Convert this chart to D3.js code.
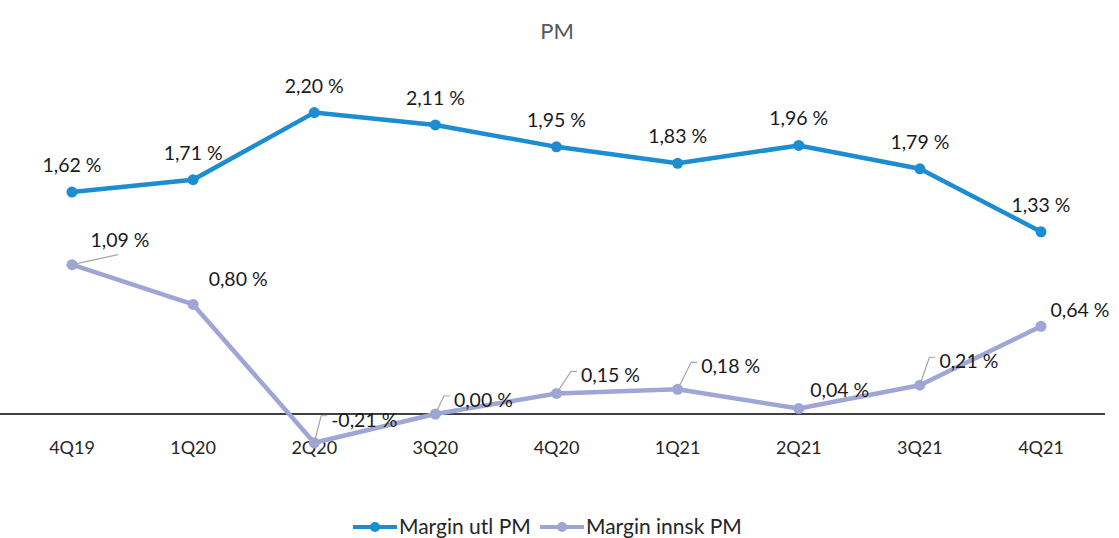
<!DOCTYPE html>
<html>
<head>
<meta charset="utf-8">
<script src="https://cdn.jsdelivr.net/npm/d3@7"></script>
<style>
  body { margin: 0; background: #fff; }
  text { font-family: Lato, "Open Sans", sans-serif; }
</style>
</head>
<body>
<svg width="1119" height="538"></svg>
<script>
// data
var categories = ["4Q19", "1Q20", "2Q20", "3Q20", "4Q20", "1Q21", "2Q21", "3Q21", "4Q21"];
var utlValues = [1.62, 1.71, 2.20, 2.11, 1.95, 1.83, 1.96, 1.79, 1.33];
var innskValues = [1.09, 0.80, -0.21, 0.00, 0.15, 0.18, 0.04, 0.21, 0.64];
var seriesNames = ["Margin utl PM", "Margin innsk PM"];

// label placement for the lower series (offset of text centre from point, leader kind)
var innskLabelPos = [
  { dx: 48, dy: -25, leader: "under" },
  { dx: 45, dy: -25, leader: null },
  { dx: 50, dy: -23, leader: "side" },
  { dx: 48, dy: -14, leader: "side" },
  { dx: 54, dy: -18, leader: "side" },
  { dx: 53, dy: -23, leader: "side" },
  { dx: 41, dy: -19, leader: null },
  { dx: 49, dy: -24, leader: "side" },
  { dx: 39, dy: -16, leader: null }
];

var blue = "#1b8dd0", lav = "#9ea6d6";

var svg = d3.select("svg");

var x = d3.scalePoint().domain(categories).range([72, 1041]);
var y = d3.scaleLinear().domain([0, 2.2]).range([414, 112.6]);

var fmt = function(v) { return v.toFixed(2).replace(".", ",") + " %"; };

// title
svg.append("text")
  .attr("x", 557).attr("y", 39)
  .attr("text-anchor", "middle")
  .attr("font-size", 22)
  .attr("fill", "#595959")
  .text("PM");

// zero axis line
svg.append("line")
  .attr("x1", 0).attr("x2", 1105)
  .attr("y1", y(0)).attr("y2", y(0))
  .attr("stroke", "#000").attr("stroke-width", 1.3);

// category labels
svg.selectAll(".cat")
  .data(categories)
  .enter().append("text")
  .attr("class", "cat")
  .attr("x", function(d) { return x(d); })
  .attr("y", 454)
  .attr("text-anchor", "middle")
  .attr("font-size", 18)
  .attr("fill", "#262626")
  .text(function(d) { return d; });

var line = d3.line()
  .x(function(d, i) { return x(categories[i]); })
  .y(function(d) { return y(d); });

function drawSeries(values, color) {
  svg.append("path")
    .datum(values)
    .attr("d", line)
    .attr("fill", "none")
    .attr("stroke", color)
    .attr("stroke-width", 4.5)
    .attr("stroke-linejoin", "round");
  svg.selectAll(null)
    .data(values)
    .enter().append("circle")
    .attr("cx", function(d, i) { return x(categories[i]); })
    .attr("cy", function(d) { return y(d); })
    .attr("r", 5.5)
    .attr("fill", color);
}

drawSeries(innskValues, lav);
drawSeries(utlValues, blue);

// labels, upper series
svg.selectAll(".lblU")
  .data(utlValues)
  .enter().append("text")
  .attr("x", function(d, i) { return x(categories[i]); })
  .attr("y", function(d) { return y(d) - 20; })
  .attr("text-anchor", "middle")
  .attr("font-size", 19.5)
  .attr("fill", "#1a1a1a")
  .text(fmt);

// labels, lower series with leaders
innskValues.forEach(function(v, i) {
  var px = x(categories[i]), py = y(v), p = innskLabelPos[i];
  var tx = px + p.dx, ty = py + p.dy;
  var t = svg.append("text")
    .attr("x", tx).attr("y", ty + 7)
    .attr("text-anchor", "middle")
    .attr("font-size", 19.5)
    .attr("fill", "#1a1a1a")
    .text(fmt(v));
  var w = t.node().getComputedTextLength();
  var lx = tx - w / 2 - 4;
  var d = null;
  if (p.leader === "side") {
    d = "M" + px + "," + py + "L" + (lx - 6) + "," + (ty - 4) + "L" + lx + "," + (ty - 4);
  } else if (p.leader === "under") {
    d = "M" + px + "," + py + "L" + (tx - 2) + "," + (ty + 15);
  }
  if (d) {
    svg.append("path")
      .attr("d", d)
      .attr("fill", "none")
      .attr("stroke", "#a6a6a6")
      .attr("stroke-width", 1.2);
  }
});

// legend
var legend = [
  { name: seriesNames[0], color: blue, x: 353 },
  { name: seriesNames[1], color: lav, x: 540 }
];
legend.forEach(function(l) {
  var g = svg.append("g").attr("transform", "translate(" + l.x + ",527)");
  g.append("line").attr("x1", 0).attr("x2", 44).attr("y1", 0).attr("y2", 0)
    .attr("stroke", l.color).attr("stroke-width", 4);
  g.append("circle").attr("cx", 22).attr("cy", 0).attr("r", 5).attr("fill", l.color);
  g.append("text").attr("x", 46).attr("y", 7)
    .attr("font-size", 21).attr("fill", "#262626")
    .text(l.name);
});
</script>
</body>
</html>
